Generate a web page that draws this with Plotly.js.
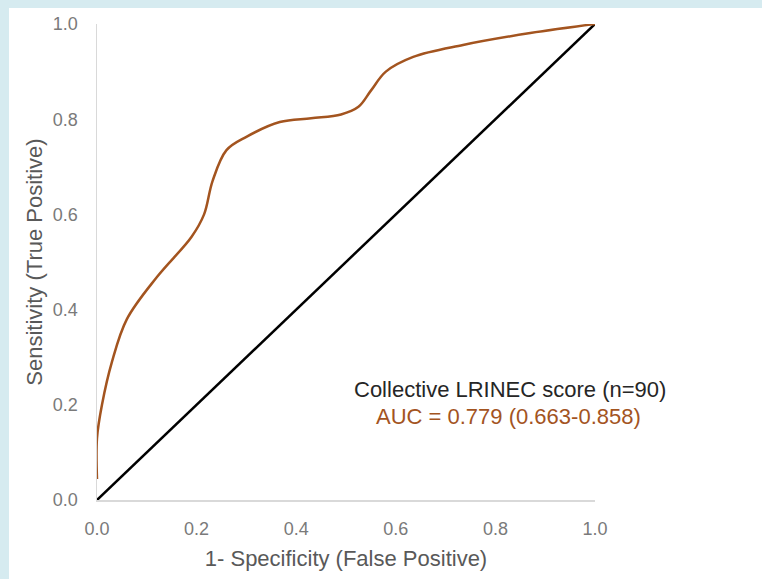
<!DOCTYPE html>
<html>
<head>
<meta charset="utf-8">
<script src="https://cdn.plot.ly/plotly-3.0.1.min.js"></script>
<style>
  html, body { margin: 0; padding: 0; background: #d6ebf0; width: 762px; height: 579px; overflow: hidden; }
  #chart { position: absolute; left: 9px; top: 8px; width: 753px; height: 571px; background: #ffffff; }
</style>
</head>
<body>
<div id="chart"></div>
<script>
// ROC curve points (1-specificity, sensitivity)
const rocFPR  = [0, 0, 0.01, 0.03, 0.06, 0.12, 0.19, 0.215, 0.232, 0.26, 0.30, 0.367, 0.43, 0.49, 0.525, 0.55, 0.58, 0.635, 0.735, 0.87, 1.0];
const rocTPR  = [0.044, 0.13, 0.20, 0.29, 0.38, 0.468, 0.553, 0.60, 0.67, 0.735, 0.763, 0.794, 0.802, 0.81, 0.826, 0.86, 0.90, 0.931, 0.956, 0.981, 1.0];
// Reference (chance) line
const refX = [0, 1];
const refY = [0, 1];
const tickVals = [0, 0.2, 0.4, 0.6, 0.8, 1.0];
const tickText = ["0.0", "0.2", "0.4", "0.6", "0.8", "1.0"];
const labelLine1 = "Collective LRINEC score (n=90)";
const labelLine2 = "AUC = 0.779 (0.663-0.858)";

const brown = "#a3541f";
const FONT = "Liberation Sans, Arial, sans-serif";

const traces = [
  {
    x: refX, y: refY, type: "scatter", mode: "lines",
    line: { color: "#000000", width: 2.5 },
    cliponaxis: false, hoverinfo: "skip", showlegend: false
  },
  {
    x: rocFPR, y: rocTPR, type: "scatter", mode: "lines",
    line: { color: brown, width: 2.5, shape: "spline", smoothing: 1 },
    cliponaxis: false, showlegend: false
  }
];

const axisCommon = {
  range: [0, 1],
  tickvals: tickVals,
  ticktext: tickText,
  showgrid: false,
  zeroline: false,
  showline: true,
  linecolor: "#d9d9d9",
  linewidth: 1.5,
  ticks: "outside",
  tickcolor: "rgba(0,0,0,0)",
  tickfont: { family: FONT, size: 18, color: "#7a7a7a" },
  fixedrange: true
};

const layout = {
  width: 753, height: 571,
  margin: { l: 88, r: 167, t: 16, b: 79 },
  paper_bgcolor: "#ffffff",
  plot_bgcolor: "#ffffff",
  showlegend: false,
  xaxis: Object.assign({}, axisCommon, {
    ticklen: 12,
    title: { text: "1- Specificity (False Positive)", standoff: 12,
      font: { family: FONT, size: 22, color: "#595959" } }
  }),
  yaxis: Object.assign({}, axisCommon, {
    ticklen: 14,
    title: { text: "Sensitivity (True Positive)", standoff: 4,
      font: { family: FONT, size: 22, color: "#595959" } }
  }),
  annotations: [
    { x: 0.829, y: 0.233, xref: "x", yref: "y", text: labelLine1, showarrow: false,
      font: { family: FONT, size: 22, color: "#262626" } },
    { x: 0.826, y: 0.176, xref: "x", yref: "y", text: labelLine2, showarrow: false,
      font: { family: FONT, size: 22, color: brown } }
  ]
};

Plotly.newPlot("chart", traces, layout, { staticPlot: true, displayModeBar: false });
</script>
</body>
</html>
